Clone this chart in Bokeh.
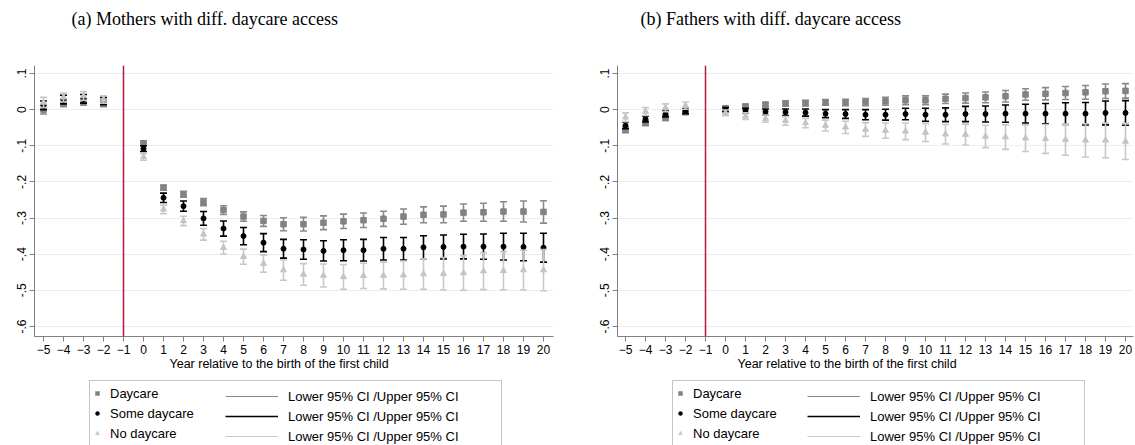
from bokeh.plotting import figure
from bokeh.models import Range1d, FixedTicker, Span, Legend, LegendItem, Title, ColumnDataSource, Label
from bokeh.layouts import row, column
from bokeh.embed import file_html
from bokeh.resources import INLINE

# ---------------- data ----------------
years = [-5, -4, -3, -2, 0, 1, 2, 3, 4, 5, 6, 7, 8, 9, 10, 11, 12, 13, 14, 15, 16, 17, 18, 19, 20]
x_ticks = [-5, -4, -3, -2, -1, 0, 1, 2, 3, 4, 5, 6, 7, 8, 9, 10, 11, 12, 13, 14, 15, 16, 17, 18, 19, 20]
y_ticks = [0.1, 0.0, -0.1, -0.2, -0.3, -0.4, -0.5, -0.6]
y_tick_labels = [".1", "0", "-.1", "-.2", "-.3", "-.4", "-.5", "-.6"]
series_names = ["Daycare", "Some daycare", "No daycare"]
ci_label = "Lower 95% CI /Upper 95% CI"
x_title = "Year relative to the birth of the first child"
titles = ["(a) Mothers with diff. daycare access", "(b) Fathers with diff. daycare access"]

# Mothers
m_day = [0.000, 0.018, 0.022, 0.018, -0.093, -0.216, -0.234, -0.256, -0.278, -0.296, -0.308, -0.317, -0.317,
         -0.313, -0.309, -0.306, -0.302, -0.296, -0.291, -0.290, -0.285, -0.284, -0.282, -0.282, -0.283]
m_day_ci = [0.012, 0.010, 0.010, 0.010, 0.007, 0.007, 0.008, 0.010, 0.012, 0.013, 0.015, 0.018, 0.019,
            0.019, 0.020, 0.020, 0.021, 0.021, 0.022, 0.023, 0.024, 0.025, 0.027, 0.029, 0.031]
m_some = [0.012, 0.028, 0.030, 0.024, -0.108, -0.244, -0.267, -0.301, -0.329, -0.350, -0.368, -0.385, -0.387,
          -0.391, -0.389, -0.389, -0.385, -0.385, -0.381, -0.380, -0.379, -0.379, -0.379, -0.380, -0.382]
m_some_ci = [0.012, 0.012, 0.012, 0.010, 0.008, 0.013, 0.014, 0.019, 0.021, 0.024, 0.025, 0.026, 0.027,
             0.028, 0.029, 0.030, 0.031, 0.031, 0.032, 0.033, 0.034, 0.035, 0.037, 0.038, 0.040]
m_no = [0.020, 0.034, 0.038, 0.028, -0.131, -0.276, -0.308, -0.345, -0.382, -0.407, -0.426, -0.444, -0.456,
        -0.459, -0.463, -0.460, -0.459, -0.458, -0.455, -0.454, -0.452, -0.447, -0.446, -0.444, -0.444]
m_no_ci = [0.014, 0.012, 0.012, 0.010, 0.009, 0.012, 0.013, 0.016, 0.018, 0.021, 0.024, 0.028, 0.030,
           0.032, 0.034, 0.035, 0.037, 0.039, 0.042, 0.045, 0.048, 0.051, 0.053, 0.055, 0.057]

# Fathers
f_day = [-0.056, -0.037, -0.023, -0.007, 0.004, 0.009, 0.014, 0.017, 0.018, 0.020, 0.020, 0.021, 0.023,
         0.026, 0.026, 0.030, 0.032, 0.034, 0.037, 0.042, 0.044, 0.046, 0.048, 0.051, 0.052]
f_day_ci = [0.008, 0.007, 0.007, 0.006, 0.005, 0.006, 0.006, 0.007, 0.008, 0.008, 0.009, 0.010, 0.011,
            0.012, 0.012, 0.013, 0.014, 0.015, 0.016, 0.016, 0.017, 0.018, 0.019, 0.020, 0.020]
f_some = [-0.044, -0.026, -0.012, -0.004, 0.000, -0.003, -0.006, -0.007, -0.008, -0.011, -0.012, -0.014, -0.014,
          -0.012, -0.014, -0.014, -0.012, -0.012, -0.011, -0.011, -0.011, -0.011, -0.011, -0.009, -0.009]
f_some_ci = [0.009, 0.008, 0.008, 0.007, 0.006, 0.007, 0.008, 0.009, 0.010, 0.011, 0.012, 0.014, 0.015,
             0.016, 0.018, 0.019, 0.021, 0.022, 0.024, 0.026, 0.028, 0.030, 0.031, 0.033, 0.034]
f_no = [-0.021, -0.005, 0.005, 0.011, -0.009, -0.018, -0.025, -0.031, -0.037, -0.044, -0.049, -0.055, -0.058,
        -0.060, -0.063, -0.068, -0.069, -0.074, -0.076, -0.079, -0.081, -0.083, -0.085, -0.085, -0.088]
f_no_ci = [0.012, 0.011, 0.011, 0.010, 0.008, 0.009, 0.010, 0.012, 0.013, 0.015, 0.017, 0.019, 0.021,
           0.023, 0.025, 0.027, 0.029, 0.031, 0.034, 0.037, 0.040, 0.043, 0.046, 0.048, 0.050]

# ---------------- styles ----------------
marker_types = ["square", "circle", "triangle"]
marker_sizes = [5.5, 5.0, 6.0]
marker_colors = ["#828282", "#000000", "#c4c4c4"]
ci_colors = ["#8a8a8a", "#000000", "#c8c8c8"]
legend_line_widths = [1.2, 1.6, 1.2]
AXIS_COLOR = "#808080"
GRID_COLOR = "#e8eef4"
RED = "#b31b3b"
SANS = "Liberation Sans"
NAN = float("nan")


def blank_fig(width, height):
    f = figure(width=width, height=height, output_backend="svg", toolbar_location=None,
               x_axis_type=None, y_axis_type=None, x_range=Range1d(0, 1), y_range=Range1d(0, 1),
               min_border=0, min_border_left=0, min_border_right=0, min_border_top=0, min_border_bottom=0)
    f.outline_line_color = None
    f.grid.visible = False
    f.background_fill_color = "white"
    f.border_fill_color = "white"
    return f


def title_fig(text, width, x_px):
    f = blank_fig(width, 40)
    f.add_layout(Label(x=x_px, y=22, x_units="screen", y_units="screen", text=text,
                       text_font="Liberation Serif", text_font_size="18px", text_color="black",
                       text_baseline="middle", text_align="left"))
    return f


def make_panel(data, width, b_left, b_right, xr, xlab_off):
    p = figure(width=width, height=338, output_backend="svg", toolbar_location=None,
               x_range=Range1d(*xr), y_range=Range1d(-0.6278, 0.1222),
               min_border_left=b_left, min_border_right=b_right,
               min_border_top=25, min_border_bottom=42)
    p.outline_line_color = None
    p.background_fill_color = "white"
    p.border_fill_color = "white"

    p.xaxis.ticker = FixedTicker(ticks=x_ticks)
    p.yaxis.ticker = FixedTicker(ticks=y_ticks)
    p.yaxis.major_label_overrides = {v: s for v, s in zip(y_ticks, y_tick_labels)}
    p.yaxis.major_label_orientation = "vertical"
    for ax in (p.xaxis[0], p.yaxis[0]):
        ax.axis_line_color = AXIS_COLOR
        ax.major_tick_line_color = AXIS_COLOR
        ax.minor_tick_line_color = None
        ax.major_tick_out = 5
        ax.major_tick_in = 0
        ax.major_label_text_font = SANS
        ax.major_label_text_font_size = "12px"
        ax.major_label_text_color = "black"
        ax.major_label_standoff = 3
    p.xgrid.visible = False
    p.ygrid.ticker = FixedTicker(ticks=y_ticks)
    p.ygrid.grid_line_color = GRID_COLOR
    p.ygrid.grid_line_width = 1

    p.add_layout(Title(text=x_title, align="left", offset=xlab_off, standoff=0, vertical_align="top",
                       text_font=SANS, text_font_size="12.5px", text_font_style="normal",
                       text_color="black"), "below")

    p.add_layout(Span(location=-1, dimension="height", line_color=RED, line_width=1.5))

    for (est, ci), mt, ms, mc, cc in zip(data, marker_types, marker_sizes, marker_colors, ci_colors):
        lo = [e - c for e, c in zip(est, ci)]
        hi = [e + c for e, c in zip(est, ci)]
        src = ColumnDataSource(dict(x=years, y=est, lo=lo, hi=hi))
        p.segment(x0="x", y0="lo", x1="x", y1="hi", source=src, line_color=cc, line_width=1.6)
        p.scatter(x="x", y="lo", source=src, marker="dash", size=7, line_color=cc, line_width=1.6)
        p.scatter(x="x", y="hi", source=src, marker="dash", size=7, line_color=cc, line_width=1.6)
        p.scatter(x="x", y="y", source=src, marker=mt, size=ms, fill_color=mc, line_color=mc)
    return p


def legend_fig(width, box_left, ci_left):
    f = blank_fig(width, 67)
    mk_renderers = []
    seg_renderers = []
    for mt, mc, cc, lw in zip(marker_types, marker_colors, ci_colors, legend_line_widths):
        mk_renderers.append(f.scatter(x=[NAN], y=[NAN], marker=mt, size=5, fill_color=mc, line_color=mc,
                                      line_width=0.5))
        seg_renderers.append(f.segment(x0=[NAN], y0=[NAN], x1=[NAN], y1=[NAN], line_color=cc, line_width=lw))
    common = dict(orientation="vertical", glyph_height=20, label_height=20, spacing=0, padding=2,
                  margin=0, label_text_font=SANS, label_text_font_size="13px",
                  label_text_color="black")
    leg_a = Legend(items=[LegendItem(label=n, renderers=[r], index=0) for n, r in zip(series_names, mk_renderers)],
                   location=(box_left, -1), glyph_width=10, label_standoff=8, label_width=389,
                   border_line_color="#8c8c8c", border_line_width=1,
                   background_fill_color="white", background_fill_alpha=1.0, **common)
    leg_b = Legend(items=[LegendItem(label=ci_label, renderers=[r], index=0) for r in seg_renderers],
                   location=(ci_left, -1), glyph_width=53, label_standoff=10,
                   border_line_color=None, background_fill_alpha=0.0, **common)
    f.add_layout(leg_a)
    f.add_layout(leg_b)
    return f


W1, W2 = 563, 572

ta = title_fig(titles[0], W1, 71)
tb = title_fig(titles[1], W2, 77)

pa = make_panel([(m_day, m_day_ci), (m_some, m_some_ci), (m_no, m_no_ci)],
                W1, 34, 10, (-5.45, 20.5), 135)
pb = make_panel([(f_day, f_day_ci), (f_some, f_some_ci), (f_no, f_no_ci)],
                W2, 54, 2, (-5.4, 20.4), 120)

la = legend_fig(W1, 89, 225)
lb = legend_fig(W2, 109, 244)

layout = column(row(ta, tb), row(pa, pb), row(la, lb))
open("out.html", "w").write(file_html(layout, INLINE))
